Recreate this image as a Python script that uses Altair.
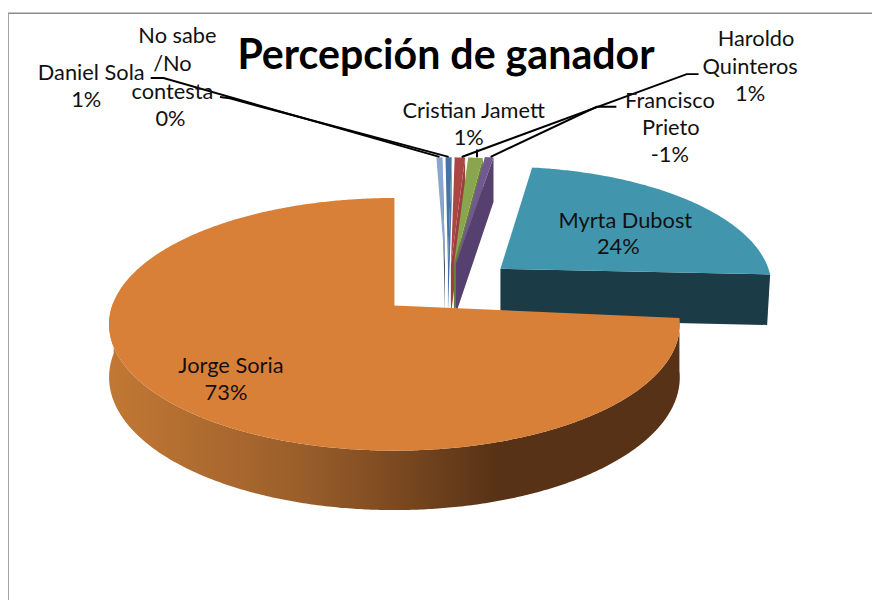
import numpy as np
import altair as alt

# ---- values
names = ["Daniel Sola", "No sabe /No contesta", "Cristian Jamett", "Haroldo Quinteros",
         "Francisco Prieto", "Myrta Dubost", "Jorge Soria"]
printed_pct = ["1%", "0%", "1%", "1%", "-1%", "24%", "73%"]
shares = [0.4, 0.4, 0.68, 0.96, 0.56, 23.6, 73.4]

# ---- styles
top_colors = ["#8AA6CE", "#4573A7", "#AA4643", "#89A54E", "#71588F", "#4196AE", "#D98038"]
wall_colors = ["#3E4B63", "#4573A7", "#9C403D", "#68803C", "#56406F", "#1B3B47", "#573216"]

# ---- layout of the 3-D disc (image pixels)
CX, CY, RX, RY, T = 398, 324.5, 288, 127.5, 0.075
offset_x = [51, 54, 57, 60, 62, 107, 0]
offset_y = [-41, -41, -41, -41, -42, -37, 0]
radius = [1.0, 1.0, 1.0, 1.0, 1.0, 0.95, 1.0]
turn = [-2, -2, -2, -2, -2, -3, 0]
PAGE = 8


def rim(theta_deg):
    """Rim point of the perspective disc for a clockwise angle from 12 o'clock."""
    a = np.radians(theta_deg)
    z = np.sin(a) + 1j * np.cos(a)
    w = (z + 1j * T) / (1 - 1j * T * z)
    return CX + RX * w.real, CY - RY * w.imag


def depth(y):
    return 45 + 15 * (y - 158) / (452 - 158)


def feature(points, fill):
    ring = [[float(x - PAGE), float(y - PAGE)] for x, y in points]
    ring.append(ring[0])
    return {"type": "Feature", "properties": {"fill": fill},
            "geometry": {"type": "Polygon", "coordinates": [ring]}}


k = 2 * T / (1 + T * T)
apex0 = (CX, CY - RY * k)

start = 0.0
slices = []
for i, s in enumerate(shares):
    span = s * 3.6
    slices.append((start, start + span))
    start += span


def slice_geometry(i):
    a, b = slices[i]
    ax, ay = apex0[0] + offset_x[i], apex0[1] + offset_y[i]
    ts = np.linspace(a, b, max(3, int(b - a) * 2))
    pts = []
    for t in ts:
        x, y = rim(t + turn[i])
        pts.append((ax + radius[i] * (x - apex0[0]), ay + radius[i] * (y - apex0[1])))
    return (ax, ay), pts, ts


shapes = []
anchors = []
for i in range(6):
    apex, pts, _ = slice_geometry(i)
    e = pts[-1]
    shapes.append(feature([apex, e, (e[0] - (3 if i == 5 else 0), e[1] + depth(e[1])),
                           (apex[0], apex[1] + depth(apex[1]))], wall_colors[i]))
    shapes.append(feature([apex] + pts, top_colors[i]))
    anchors.append(pts[len(pts) // 2])

o_apex, o_pts, o_ts = slice_geometry(6)
# visible front wall of the large slice: from its right corner round to the far left
wall_pts = [p for p, t in zip(o_pts, o_ts) if t <= 272]
wall_ring = wall_pts + [(x, y + depth(y)) for x, y in reversed(wall_pts)]
orange_wall = [feature(wall_ring, wall_colors[6])]
orange_top = [feature([o_apex] + o_pts, top_colors[6])]


def geo(features, **kw):
    return (alt.Chart(alt.Data(values=features)).mark_geoshape(strokeWidth=0, **kw)
            .project(type="identity", scale=1, translate=[0, 0]))


small_layer = geo(shapes).encode(fill=alt.Fill("properties.fill:N", scale=None))
wall_layer = geo(orange_wall, fill=alt.Gradient(
    gradient="linear", x1=0, x2=1, y1=0, y2=0,
    stops=[alt.GradientStop(color="#C27834", offset=0),
           alt.GradientStop(color="#9B5F2B", offset=0.33),
           alt.GradientStop(color="#7C4A21", offset=0.5),
           alt.GradientStop(color="#573216", offset=0.68),
           alt.GradientStop(color="#573216", offset=1)]))
top_layer = geo(orange_top, fill=top_colors[6])

# ---- leader lines: elbow at the label side, end on the slice rim
elbows = [[(152, 76), (165, 76)], [(222, 95), (230, 96)], [(705, 72), (693, 72)],
          [(anchors[3][0], 148)], [(622, 105), (602, 105)]]
rows = []
for n, el in enumerate(elbows):
    pts = el + [(anchors[n][0], anchors[n][1] - 0.5)]
    for j, (x, y) in enumerate(pts):
        rows.append({"x": x - PAGE, "y": y - PAGE, "g": n, "o": j})
leaders = alt.Chart(alt.Data(values=rows)).mark_line(color="#000000", strokeWidth=2).encode(
    x=alt.X("x:Q", scale=None), y=alt.Y("y:Q", scale=None),
    detail="g:N", order="o:Q")

# ---- text (each printed line with its place)
label_lines = [
    ("Daniel Sola", 92, 71), (printed_pct[0], 87, 98),
    ("No sabe", 179, 34), ("/No", 174, 62), ("contesta", 174, 90), (printed_pct[1], 172, 117),
    ("Cristian Jamett", 478, 109), (printed_pct[2], 473, 137),
    ("Haroldo", 763, 37), ("Quinteros", 757, 65), (printed_pct[3], 757, 92),
    ("Francisco", 676, 99), ("Prieto", 677, 126), (printed_pct[4], 676, 154),
    ("Myrta Dubost", 631, 220), (printed_pct[5], 624, 247),
    ("Jorge Soria", 233, 367), (printed_pct[6], 228, 394),
]
text_rows = [{"t": t, "x": x - PAGE, "y": y - PAGE} for t, x, y in label_lines]
labels = alt.Chart(alt.Data(values=text_rows)).mark_text(
    font="Lato", fontSize=22, color="#111111", align="center", baseline="middle").encode(
    x=alt.X("x:Q", scale=None), y=alt.Y("y:Q", scale=None), text="t:N")

title = alt.Chart(alt.Data(values=[{"t": "Percepción de ganador", "x": 450 - PAGE, "y": 55 - PAGE}])).mark_text(
    font="Lato", fontSize=41.5, fontWeight="bold", color="#000000", align="center", baseline="middle").encode(
    x=alt.X("x:Q", scale=None), y=alt.Y("y:Q", scale=None), text="t:N")

# ---- chart frame
frame_h = alt.Chart(alt.Data(values=[{"x": 0, "x2": 872, "y": 2.5}])).mark_rule(color="#8C8C8C", strokeWidth=1.5).encode(
    x=alt.X("x:Q", scale=None), x2="x2:Q", y=alt.Y("y:Q", scale=None))
frame_v = alt.Chart(alt.Data(values=[{"y": 2, "y2": 596, "x": 0.5}])).mark_rule(color="#A0A0A0", strokeWidth=1).encode(
    y=alt.Y("y:Q", scale=None), y2="y2:Q", x=alt.X("x:Q", scale=None))

chart = alt.layer(frame_h, frame_v, small_layer, wall_layer, top_layer, leaders, labels, title).properties(
    width=872, height=592, padding=0, autosize=alt.AutoSizeParams(type="none"), background="#FFFFFF"
).configure_view(stroke=None)

chart.save("out.html", embed_options={"renderer": "svg", "actions": False})
